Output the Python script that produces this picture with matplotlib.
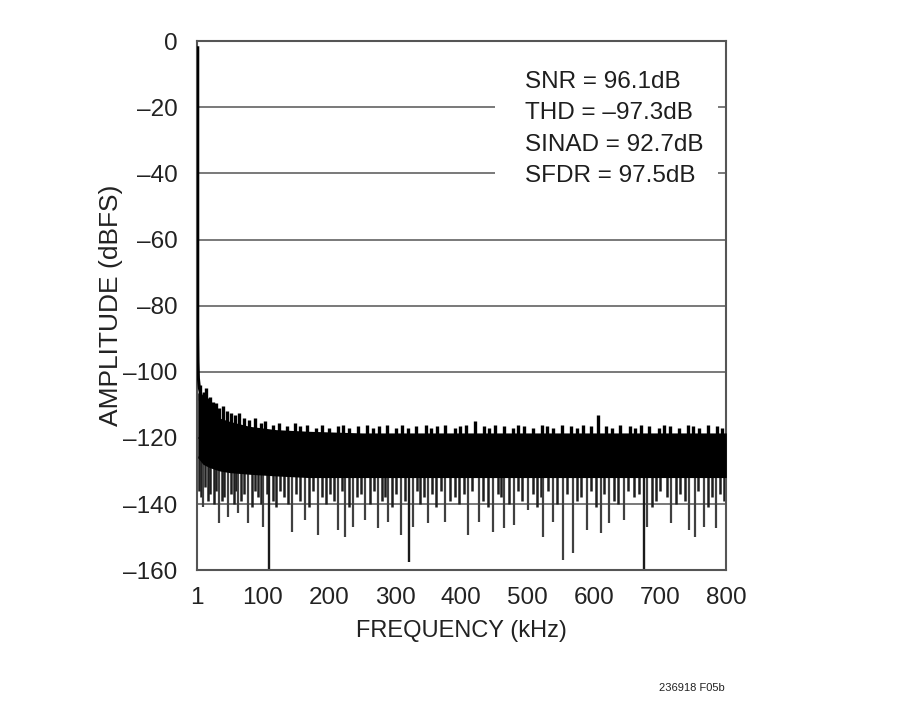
import numpy as np
import matplotlib.pyplot as plt
from matplotlib.patches import Rectangle

# ── Données ─────────────────────────────────────────────────────────────────
# fondamental + jupe près de 1 kHz
fund_freq = [2.0, 2.0, 2.4, 3.0, 4.5, 7.0, 10.0]
fund_db = [-2.0, -88.0, -97.0, -102.0, -105.0, -107.0, -108.5]

# enveloppe du plancher de bruit (bord haut / bas de la zone noire pleine)
env_freq = [2, 10, 20, 35, 50, 80, 120, 170, 250, 350, 450, 550, 650, 750, 800]
env_top = [-106, -110.5, -112.5, -114, -115, -116.5, -117.5, -118, -118.5,
           -118.5, -118.5, -118.5, -118.5, -118.5, -118.5]
env_bot = [-126, -128, -129, -130, -130.5, -131, -131.5, -132, -132,
           -132, -132, -132, -132, -132, -132]

# pics vers le bas (fréquence kHz, profondeur dBFS)
spike_freq = [10, 34, 48, 63, 78, 101, 144, 164, 184, 214, 225, 237, 255,
              274, 289, 309, 327, 350, 376, 410, 427, 448, 465, 480, 501,
              524, 539, 554, 569, 589, 611, 623, 646, 681, 717, 744, 752,
              767, 785]
spike_db = [-141.0, -145.8, -144.0, -142.8, -145.8, -147.0, -148.5, -144.9,
            -149.4, -147.9, -150.0, -147.0, -144.9, -147.3, -145.5, -149.4,
            -147.0, -145.8, -145.5, -149.4, -145.5, -148.5, -147.3, -146.4,
            -141.9, -150.0, -145.5, -157.0, -154.9, -147.9, -148.8, -145.8,
            -144.9, -147.0, -145.8, -147.9, -150.0, -147.0, -147.3]

# pics courts (zone grise sous la bande)
short_freq = [4, 7, 13, 17, 21, 27, 30, 38, 42, 52, 56, 60, 68, 72, 84, 88,
              93, 97, 106, 115, 120, 126, 132, 138, 150, 156, 170, 176, 190,
              196, 202, 208, 220, 231, 243, 248, 262, 268, 280, 285, 296,
              302, 315, 333, 338, 344, 356, 362, 370, 383, 390, 397, 404,
              416, 433, 440, 455, 460, 472, 486, 492, 508, 514, 520, 531,
              545, 560, 575, 580, 596, 603, 616, 630, 636, 652, 660, 668,
              688, 694, 700, 710, 724, 730, 737, 758, 772, 779, 791, 797]
short_db = [-136, -138, -135, -139, -137, -140, -136, -139, -138, -137,
            -140, -136, -139, -137, -141, -136, -138, -140, -137, -139,
            -141, -136, -138, -140, -137, -139, -141, -136, -138, -140,
            -137, -139, -136, -141, -138, -137, -140, -136, -139, -138,
            -141, -137, -139, -136, -140, -138, -137, -141, -136, -139,
            -138, -140, -137, -136, -139, -141, -137, -138, -140, -136,
            -139, -137, -141, -138, -136, -140, -137, -139, -138, -136,
            -141, -137, -139, -140, -136, -138, -137, -141, -139, -136,
            -138, -140, -137, -139, -136, -141, -138, -137, -139]

# traits sombres jusqu'au bas du graphe
dark_freq = [110, 321, 675]
dark_db = [-160.0, -157.6, -160.0]

# bord haut irrégulier (petits pics vers le haut)
up_freq = [5, 8, 11, 14, 17, 21, 25, 29, 34, 40, 46, 52, 58, 65, 72, 80,
           88, 97, 104, 116, 124, 136, 149, 156, 167, 181, 189, 200, 214,
           222, 231, 244, 257, 266, 275, 288, 301, 310, 319, 332, 346, 354,
           363, 376, 390, 398, 407, 420, 434, 442, 451, 464, 478, 486, 495,
           508, 522, 530, 539, 552, 566, 574, 583, 596, 607, 618, 627, 640,
           654, 662, 671, 684, 698, 706, 715, 728, 742, 750, 759, 772, 786,
           794]
up_db = [-104, -107, -106, -105, -108, -107.5, -109, -109.5, -111, -110.5,
         -112, -112.5, -113, -112.5, -114, -114.5, -114, -115.5, -115,
         -116, -115.5, -116.5, -115.5, -116.5, -116, -117, -116, -117,
         -116.5, -116, -117, -116.5, -116, -117, -116.5, -116, -117, -116,
         -117, -116.5, -116, -117, -116.5, -116, -117, -116.5, -116, -115,
         -116.5, -117, -116, -116.5, -117, -116, -116.5, -117, -116,
         -116.5, -117, -116, -116.5, -117, -116, -116.5, -113, -116.5,
         -117, -116, -116.5, -117, -116, -116.5, -117, -116, -116.5, -117,
         -116, -116.5, -117, -116, -116.5, -117]

yticks = [0, -20, -40, -60, -80, -100, -120, -140, -160]
xticks = [1, 100, 200, 300, 400, 500, 600, 700, 800]
stats = ["SNR = 96.1dB", "THD = \u201397.3dB", "SINAD = 92.7dB",
         "SFDR = 97.5dB"]

plt.rcParams['font.family'] = ['Liberation Sans', 'DejaVu Sans']

fig = plt.figure(figsize=(9, 7.1), dpi=100)
ax = fig.add_axes([0.219, 0.197, 0.588, 0.745])

ax.set_xlim(1, 800)
ax.set_ylim(-160, 0)

# grille horizontale
for yv in yticks[1:-1]:
    ax.axhline(yv, color='#6e6e6e', linewidth=1.3, zorder=1)

# plancher de bruit
ax.fill_between(env_freq, env_bot, env_top, color='black', linewidth=0,
                zorder=3)
ax.vlines(short_freq, np.interp(short_freq, env_freq, env_bot) + 1, short_db,
          color='#1e1e1e', linewidth=1.8, zorder=2)
ax.vlines(spike_freq, np.interp(spike_freq, env_freq, env_bot) + 1, spike_db,
          color='#404040', linewidth=1.6, zorder=2)
ax.vlines(dark_freq, np.interp(dark_freq, env_freq, env_bot) + 1, dark_db,
          color='#1a1a1a', linewidth=1.7, zorder=2)
ax.vlines(up_freq, np.interp(up_freq, env_freq, env_top) - 1, up_db,
          color='black', linewidth=2.4, zorder=3)

# fondamental
ax.plot(fund_freq, fund_db, color='black', linewidth=2.2, zorder=4)

# cache blanc derrière le texte (coupe la grille)
ax.add_patch(Rectangle((0.563, 0.72), 0.422, 0.255, transform=ax.transAxes,
                       facecolor='white', edgecolor='none', zorder=4))
ax.text(0.62, 0.944, "\n".join(stats), transform=ax.transAxes,
        fontsize=17.5, va='top', ha='left', linespacing=1.55, zorder=5,
        color='#1e1e1e')

ax.set_yticks(yticks)
ax.set_yticklabels([str(v).replace('-', '\u2013') for v in yticks])
ax.set_xticks(xticks)
ax.set_xticklabels([str(v) for v in xticks])
ax.tick_params(length=0, labelsize=17.5, colors='#222222')
ax.tick_params(axis='y', pad=14)
ax.tick_params(axis='x', pad=12)

for s in ax.spines.values():
    s.set_color('#555555')
    s.set_linewidth(1.5)

ax.set_ylabel("AMPLITUDE (dBFS)", fontsize=19, color='#222222')
ax.set_xlabel("FREQUENCY (kHz)", fontsize=17, color='#222222', labelpad=8)
ax.yaxis.set_label_coords(-0.14, 0.5)

fig.text(0.805, 0.027, "236918 F05b", fontsize=8, ha='right',
         color='#222222')

fig.savefig("out.png", dpi=100)
